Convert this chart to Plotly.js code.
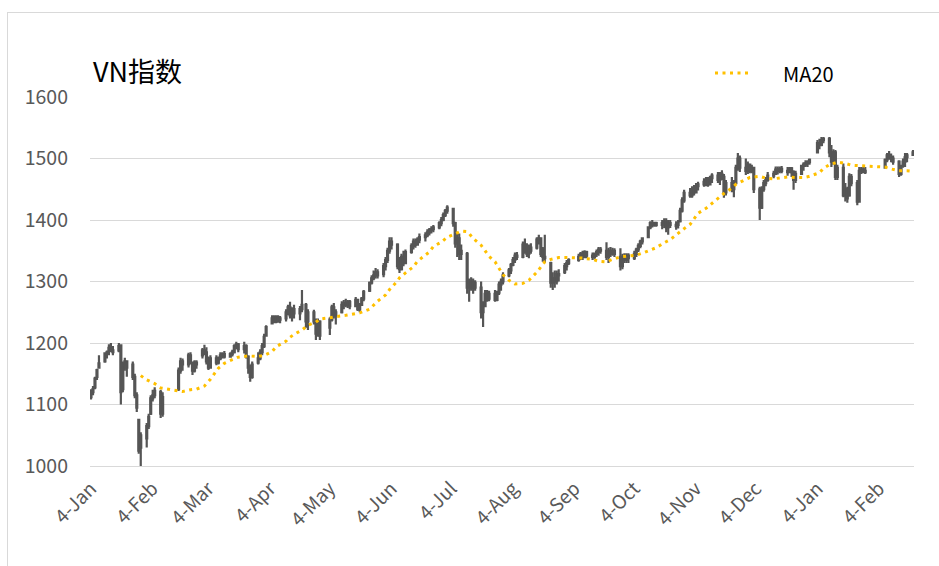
<!DOCTYPE html>
<html>
<head>
<meta charset="utf-8">
<script src="https://cdn.plot.ly/plotly-3.0.1.min.js"></script>
<style>
html,body{margin:0;padding:0;background:#fff;overflow:hidden;}
#chart{position:absolute;left:0;top:0;width:939px;height:566px;}
#frame{position:absolute;left:7px;top:12px;width:960px;height:600px;border:1px solid #d9d9d9;pointer-events:none;z-index:5;}
</style>
</head>
<body>
<div id="chart"></div>
<div id="frame"></div>
<script>
// ---- trading days ----
const tradeDates = [
"2021-01-04","2021-01-05","2021-01-06","2021-01-07","2021-01-08","2021-01-11","2021-01-12","2021-01-13","2021-01-14","2021-01-15","2021-01-18","2021-01-19","2021-01-20","2021-01-21","2021-01-22","2021-01-25","2021-01-26","2021-01-27","2021-01-28","2021-01-29",
"2021-02-01","2021-02-02","2021-02-03","2021-02-04","2021-02-05","2021-02-08","2021-02-09","2021-02-17","2021-02-18","2021-02-19","2021-02-22","2021-02-23","2021-02-24","2021-02-25","2021-02-26",
"2021-03-01","2021-03-02","2021-03-03","2021-03-04","2021-03-05","2021-03-08","2021-03-09","2021-03-10","2021-03-11","2021-03-12","2021-03-15","2021-03-16","2021-03-17","2021-03-18","2021-03-19","2021-03-22","2021-03-23","2021-03-24","2021-03-25","2021-03-26","2021-03-29","2021-03-30","2021-03-31",
"2021-04-01","2021-04-02","2021-04-05","2021-04-06","2021-04-07","2021-04-08","2021-04-09","2021-04-12","2021-04-13","2021-04-14","2021-04-15","2021-04-16","2021-04-19","2021-04-20","2021-04-22","2021-04-23","2021-04-26","2021-04-27","2021-04-28","2021-04-29",
"2021-05-04","2021-05-05","2021-05-06","2021-05-07","2021-05-10","2021-05-11","2021-05-12","2021-05-13","2021-05-14","2021-05-17","2021-05-18","2021-05-19","2021-05-20","2021-05-21","2021-05-24","2021-05-25","2021-05-26","2021-05-27","2021-05-28","2021-05-31",
"2021-06-01","2021-06-02","2021-06-03","2021-06-04","2021-06-07","2021-06-08","2021-06-09","2021-06-10","2021-06-11","2021-06-14","2021-06-15","2021-06-16","2021-06-17","2021-06-18","2021-06-21","2021-06-22","2021-06-23","2021-06-24","2021-06-25","2021-06-28","2021-06-29","2021-06-30",
"2021-07-01","2021-07-02","2021-07-05","2021-07-06","2021-07-07","2021-07-08","2021-07-09","2021-07-12","2021-07-13","2021-07-14","2021-07-15","2021-07-16","2021-07-19","2021-07-20","2021-07-21","2021-07-22","2021-07-23","2021-07-26","2021-07-27","2021-07-28","2021-07-29","2021-07-30",
"2021-08-02","2021-08-03","2021-08-04","2021-08-05","2021-08-06","2021-08-09","2021-08-10","2021-08-11","2021-08-12","2021-08-13","2021-08-16","2021-08-17","2021-08-18","2021-08-19","2021-08-20","2021-08-23","2021-08-24","2021-08-25","2021-08-26","2021-08-27","2021-08-30","2021-08-31",
"2021-09-01","2021-09-06","2021-09-07","2021-09-08","2021-09-09","2021-09-10","2021-09-13","2021-09-14","2021-09-15","2021-09-16","2021-09-17","2021-09-20","2021-09-21","2021-09-22","2021-09-23","2021-09-24","2021-09-27","2021-09-28","2021-09-29","2021-09-30",
"2021-10-01","2021-10-04","2021-10-05","2021-10-06","2021-10-07","2021-10-08","2021-10-11","2021-10-12","2021-10-13","2021-10-14","2021-10-15","2021-10-18","2021-10-19","2021-10-20","2021-10-21","2021-10-22","2021-10-25","2021-10-26","2021-10-27","2021-10-28","2021-10-29",
"2021-11-01","2021-11-02","2021-11-03","2021-11-04","2021-11-05","2021-11-08","2021-11-09","2021-11-10","2021-11-11","2021-11-12","2021-11-15","2021-11-16","2021-11-17","2021-11-18","2021-11-19","2021-11-22","2021-11-23","2021-11-24","2021-11-25","2021-11-26","2021-11-29","2021-11-30",
"2021-12-01","2021-12-02","2021-12-03","2021-12-06","2021-12-07","2021-12-08","2021-12-09","2021-12-10","2021-12-13","2021-12-14","2021-12-15","2021-12-16","2021-12-17","2021-12-20","2021-12-21","2021-12-22","2021-12-23","2021-12-24","2021-12-27","2021-12-28","2021-12-29","2021-12-30","2021-12-31",
"2022-01-04","2022-01-05","2022-01-06","2022-01-07","2022-01-10","2022-01-11","2022-01-12","2022-01-13","2022-01-14","2022-01-17","2022-01-18","2022-01-19","2022-01-20","2022-01-21","2022-01-24","2022-01-25","2022-01-26","2022-01-27","2022-01-28",
"2022-02-07","2022-02-08","2022-02-09","2022-02-10","2022-02-11","2022-02-14","2022-02-15","2022-02-16","2022-02-17","2022-02-18","2022-02-21"
];
const openVals = [
1112,1120,1128,1145,1160,1170,1183,1188,1192,1188,1188,1196,1125,1165,1170,1165,1145,1115,1075,1030,
1045,1065,1085,1110,1115,1120,1085,1125,1155,1170,1165,1180,1168,1155,1168,
1180,1188,1185,1170,1160,1175,1168,1175,1180,1182,1178,1182,1185,1195,1198,1190,1195,1178,1160,1145,1168,1175,1185,
1195,1212,1232,1240,1235,1242,1238,1240,1250,1258,1245,1255,1248,1255,1262,1235,1250,1235,1215,1235,
1225,1238,1258,1245,1250,1262,1265,1262,1267,1260,1270,1255,1262,1272,1285,1298,1305,1310,1315,1312,
1325,1335,1350,1365,1360,1325,1320,1340,1330,1348,1358,1365,1360,1368,1372,1375,1380,1384,1385,1388,1395,1400,
1408,1415,1418,1395,1362,1370,1345,1345,1290,1300,1290,1298,1290,1250,1260,1280,1272,1280,1270,1282,1295,1300,
1310,1318,1327,1335,1342,1340,1360,1350,1345,1355,1355,1368,1370,1352,1340,1330,1298,1305,1300,1312,1315,1325,
1330,1335,1340,1345,1340,1348,1342,1340,1345,1348,1352,1350,1340,1350,1345,1350,1340,1325,1340,1335,
1342,1338,1345,1352,1358,1365,1372,1388,1395,1392,1395,1392,1395,1398,1388,1395,1390,1392,1398,1415,1432,
1444,1440,1450,1445,1455,1458,1462,1465,1458,1468,1472,1465,1475,1470,1445,1460,1450,1460,1485,1500,1485,1480,
1490,1480,1485,1450,1420,1450,1460,1465,1472,1475,1482,1480,1483,1480,1478,1484,1478,1465,1475,1488,1490,1492,1494,
1510,1525,1522,1530,1532,1510,1495,1510,1470,1485,1440,1450,1440,1470,1460,1430,1480,1482,1478,
1485,1498,1505,1502,1500,1495,1475,1488,1495,1502,1506
];
const highVals = [
1125,1130,1145,1158,1180,1185,1188,1198,1200,1195,1200,1198,1170,1176,1172,1170,1150,1120,1075,1055,
1070,1085,1115,1124,1128,1124,1120,1160,1176,1175,1184,1185,1170,1172,1172,
1192,1197,1193,1178,1180,1180,1178,1185,1185,1187,1185,1189,1198,1202,1200,1202,1198,1180,1165,1170,1185,1190,1200,
1215,1229,1245,1245,1245,1245,1244,1255,1262,1267,1258,1262,1260,1286,1265,1255,1254,1240,1240,1237,
1242,1262,1265,1255,1268,1270,1272,1270,1270,1275,1272,1265,1275,1286,1300,1310,1318,1322,1320,1330,
1340,1355,1372,1372,1362,1340,1345,1350,1352,1362,1370,1370,1372,1378,1380,1385,1387,1390,1392,1398,1405,1412,
1418,1424,1420,1397,1380,1378,1360,1348,1305,1307,1305,1302,1300,1268,1286,1286,1285,1286,1285,1300,1305,1315,
1322,1330,1340,1347,1348,1365,1370,1362,1360,1362,1372,1376,1372,1356,1376,1332,1315,1318,1318,1320,1330,1335,
1338,1345,1348,1350,1351,1350,1347,1347,1352,1356,1356,1364,1355,1356,1355,1354,1354,1345,1346,1346,
1346,1350,1355,1362,1368,1372,1390,1398,1400,1397,1397,1400,1403,1403,1400,1400,1398,1400,1420,1437,1449,
1452,1455,1457,1460,1462,1468,1470,1470,1472,1476,1478,1478,1481,1475,1465,1470,1465,1490,1509,1505,1500,1495,
1492,1490,1486,1454,1455,1465,1470,1478,1480,1487,1487,1487,1488,1486,1486,1486,1481,1480,1490,1494,1497,1497,1500,
1530,1532,1535,1535,1535,1522,1515,1514,1490,1492,1460,1454,1476,1475,1465,1486,1486,1486,1486,
1500,1509,1512,1508,1505,1497,1490,1500,1509,1509,1514
];
const lowVals = [
1108,1115,1125,1140,1158,1168,1175,1180,1185,1180,1185,1100,1120,1155,1145,1140,1110,1088,1020,1000,
1030,1060,1083,1105,1110,1078,1080,1122,1150,1155,1160,1165,1148,1152,1158,
1175,1180,1165,1156,1158,1164,1165,1172,1175,1175,1177,1178,1183,1190,1185,1183,1175,1150,1137,1142,1165,1172,1180,
1192,1210,1230,1232,1232,1233,1232,1235,1245,1240,1235,1240,1237,1250,1225,1221,1230,1205,1210,1205,
1213,1235,1240,1230,1248,1255,1258,1257,1255,1258,1252,1250,1260,1268,1283,1295,1302,1305,1305,1307,
1318,1330,1345,1352,1320,1314,1318,1325,1328,1345,1352,1355,1358,1362,1365,1372,1375,1378,1380,1385,1390,1398,
1405,1410,1389,1355,1340,1335,1335,1280,1267,1285,1280,1285,1240,1226,1258,1267,1268,1267,1268,1278,1285,1295,
1307,1312,1325,1330,1335,1338,1345,1340,1338,1345,1352,1360,1340,1332,1330,1290,1286,1290,1295,1300,1312,1318,
1327,1332,1335,1335,1338,1338,1335,1336,1340,1342,1345,1335,1330,1340,1342,1340,1318,1320,1330,1330,
1330,1335,1340,1348,1354,1360,1372,1385,1388,1389,1389,1385,1387,1380,1376,1387,1384,1386,1396,1412,1428,
1436,1436,1440,1444,1448,1454,1455,1454,1457,1460,1460,1457,1465,1436,1440,1445,1437,1458,1480,1478,1473,1475,
1476,1476,1444,1400,1418,1446,1455,1462,1468,1473,1474,1476,1476,1472,1476,1470,1449,1460,1474,1480,1486,1486,1490,
1509,1515,1520,1525,1502,1486,1490,1465,1465,1437,1430,1428,1438,1455,1424,1428,1475,1476,1475,
1484,1494,1498,1494,1490,1470,1472,1485,1486,1494,1504
];
const closeVals = [
1120,1125,1142,1156,1167,1183,1185,1192,1188,1185,1195,1120,1165,1170,1160,1145,1115,1095,1025,1050,
1065,1080,1110,1115,1122,1085,1112,1155,1170,1165,1180,1168,1155,1168,1165,
1188,1185,1170,1160,1175,1168,1175,1180,1182,1178,1182,1185,1195,1198,1190,1195,1178,1160,1145,1165,1175,1185,1195,
1210,1226,1240,1235,1242,1238,1240,1250,1258,1245,1255,1248,1255,1262,1235,1250,1235,1215,1235,1212,
1238,1258,1245,1250,1262,1265,1262,1267,1260,1270,1255,1262,1272,1283,1298,1305,1310,1315,1310,1325,
1335,1350,1365,1360,1325,1320,1340,1330,1348,1358,1365,1360,1368,1372,1375,1380,1384,1385,1388,1395,1400,1408,
1415,1420,1395,1362,1370,1345,1350,1290,1300,1290,1298,1290,1250,1260,1280,1272,1280,1270,1282,1295,1300,1310,
1318,1327,1335,1342,1340,1360,1350,1345,1355,1350,1368,1370,1345,1340,1338,1298,1305,1300,1312,1310,1325,1330,
1335,1340,1345,1340,1348,1342,1340,1345,1348,1352,1350,1340,1350,1345,1350,1345,1325,1340,1335,1342,
1338,1345,1352,1358,1365,1370,1388,1395,1392,1395,1392,1395,1398,1388,1395,1392,1392,1395,1415,1432,1444,
1440,1450,1445,1455,1458,1462,1465,1458,1468,1472,1465,1475,1470,1445,1460,1450,1460,1485,1500,1485,1480,1490,
1480,1485,1450,1420,1450,1460,1465,1472,1475,1482,1480,1483,1480,1478,1484,1478,1465,1475,1488,1490,1492,1494,1498,
1525,1522,1530,1532,1510,1495,1510,1470,1485,1440,1450,1435,1470,1460,1430,1480,1482,1478,1480,
1498,1505,1502,1500,1495,1475,1488,1495,1502,1505,1510
];
// ---- MA20 ----
const maDates = [
"2021-01-29","2021-02-01","2021-02-05","2021-02-08","2021-02-17","2021-02-19","2021-02-23","2021-02-26",
"2021-03-02","2021-03-05","2021-03-09","2021-03-12","2021-03-16","2021-03-19","2021-03-24","2021-03-29",
"2021-04-01","2021-04-05","2021-04-07","2021-04-12","2021-04-13","2021-04-16","2021-04-20","2021-04-23","2021-04-27","2021-04-29",
"2021-05-04","2021-05-07","2021-05-12","2021-05-17","2021-05-19","2021-05-24","2021-05-26","2021-05-28",
"2021-06-01","2021-06-03","2021-06-07","2021-06-08","2021-06-11","2021-06-15","2021-06-17","2021-06-21","2021-06-23","2021-06-25","2021-06-29",
"2021-07-02","2021-07-06","2021-07-09","2021-07-12","2021-07-13","2021-07-15","2021-07-19","2021-07-21","2021-07-23","2021-07-26","2021-07-28","2021-07-30",
"2021-08-02","2021-08-05","2021-08-09","2021-08-12","2021-08-16","2021-08-18","2021-08-20","2021-08-23","2021-08-27",
"2021-09-01","2021-09-06","2021-09-08","2021-09-13","2021-09-16","2021-09-20","2021-09-23","2021-09-27",
"2021-10-01","2021-10-05","2021-10-08","2021-10-12","2021-10-15","2021-10-19","2021-10-22","2021-10-29",
"2021-11-01","2021-11-03","2021-11-05","2021-11-09","2021-11-12","2021-11-15","2021-11-18","2021-11-22","2021-11-24","2021-11-29",
"2021-12-01","2021-12-06","2021-12-09","2021-12-13","2021-12-16","2021-12-20","2021-12-24","2021-12-28","2021-12-31",
"2022-01-05","2022-01-07","2022-01-10","2022-01-14","2022-01-18","2022-01-21","2022-01-26","2022-01-28",
"2022-02-07","2022-02-10","2022-02-14","2022-02-18","2022-02-21"
];
const maVals = [
1147,1140,1134,1127,1122,1121,1124,1125,
1130,1141,1159,1167,1173,1177,1179,1178,
1180,1186,1194,1203,1207,1214,1221,1229,1234,1239,
1241,1243,1245,1248,1249,1255,1262,1268,
1278,1287,1301,1306,1314,1324,1333,1343,1348,1357,1364,
1372,1377,1382,1381,1378,1370,1359,1350,1341,1332,1322,1311,
1302,1296,1297,1302,1315,1323,1332,1336,1339,
1339,1339,1338,1336,1333,1332,1336,1340,
1341,1343,1346,1351,1355,1363,1368,1386,
1393,1402,1411,1419,1427,1434,1443,1452,1458,1466,
1469,1471,1468,1467,1468,1470,1469,1469,1471,
1477,1484,1490,1494,1492,1489,1488,1487,
1486,1483,1480,1480,1479
];
// ---- axis ticks ----
const tickDates = ["2021-01-04","2021-02-04","2021-03-04","2021-04-04","2021-05-04","2021-06-04","2021-07-04","2021-08-04","2021-09-04","2021-10-04","2021-11-04","2021-12-04","2022-01-04","2022-02-04"];
const tickLabels = ["4-Jan","4-Feb","4-Mar","4-Apr","4-May","4-Jun","4-Jul","4-Aug","4-Sep","4-Oct","4-Nov","4-Dec","4-Jan","4-Feb"];
const yTicks = [1000,1100,1200,1300,1400,1500,1600];

const candleColor = '#555555';
const FONT = '"Noto Sans CJK SC", "Noto Sans", sans-serif';
const L = 90, R = 25, T = 97, B = 100, W = 939, H = 566;
const pw = W - L - R, ph = H - T - B;
const px2x = p => (p - L) / pw;
const py2y = p => (H - B - p) / ph;

const traces = [
  {
    type: 'candlestick',
    x: tradeDates, open: openVals, high: highVals, low: lowVals, close: closeVals,
    increasing: {line: {color: candleColor, width: 2.2}, fillcolor: candleColor},
    decreasing: {line: {color: candleColor, width: 2.2}, fillcolor: candleColor},
    whiskerwidth: 0,
    showlegend: false,
    hoverinfo: 'skip'
  },
  {
    type: 'scatter', mode: 'lines', name: 'MA20',
    x: maDates, y: maVals,
    line: {color: '#FFC000', width: 3, dash: '3px,4.5px'},
    showlegend: false,
    hoverinfo: 'skip'
  }
];

const layout = {
  width: W, height: H,
  margin: {l: L, r: R, t: T, b: B, pad: 0},
  paper_bgcolor: '#ffffff', plot_bgcolor: '#ffffff',
  showlegend: false,
  title: {
    text: 'VN指数', xref: 'container', yref: 'container',
    x: 93 / W, y: 1 - 73 / H, xanchor: 'left', yanchor: 'middle',
    font: {family: FONT, size: 27, color: '#000000'}
  },
  xaxis: {
    type: 'date',
    range: ['2021-01-03 12:00', '2022-02-21 12:00'],
    rangeslider: {visible: false},
    tickmode: 'array', tickvals: tickDates, ticktext: tickLabels,
    tickangle: -45,
    tickfont: {family: FONT, size: 19, color: '#595959'},
    showgrid: false, zeroline: false,
    showline: true, linecolor: '#d9d9d9', linewidth: 1,
    ticks: '', ticklabelstandoff: 3
  },
  yaxis: {
    range: [1000, 1600],
    tickmode: 'array', tickvals: yTicks,
    tickfont: {family: FONT, size: 19.5, color: '#595959'},
    showgrid: true, gridcolor: '#d9d9d9', gridwidth: 1,
    zeroline: false, showline: false, ticks: '',
    ticklabelstandoff: 21
  },
  shapes: [
    {type: 'line', xref: 'paper', yref: 'paper',
     x0: px2x(715), x1: px2x(752), y0: py2y(73), y1: py2y(73),
     line: {color: '#FFC000', width: 3, dash: '3px,4.5px'}}
  ],
  annotations: [
    {xref: 'paper', yref: 'paper', x: px2x(781), y: py2y(73),
     xanchor: 'left', yanchor: 'middle', showarrow: false,
     text: 'MA20', font: {family: FONT, size: 20, color: '#000000'}}
  ]
};

Plotly.newPlot('chart', traces, layout, {staticPlot: true, displayModeBar: false});
</script>
</body>
</html>
